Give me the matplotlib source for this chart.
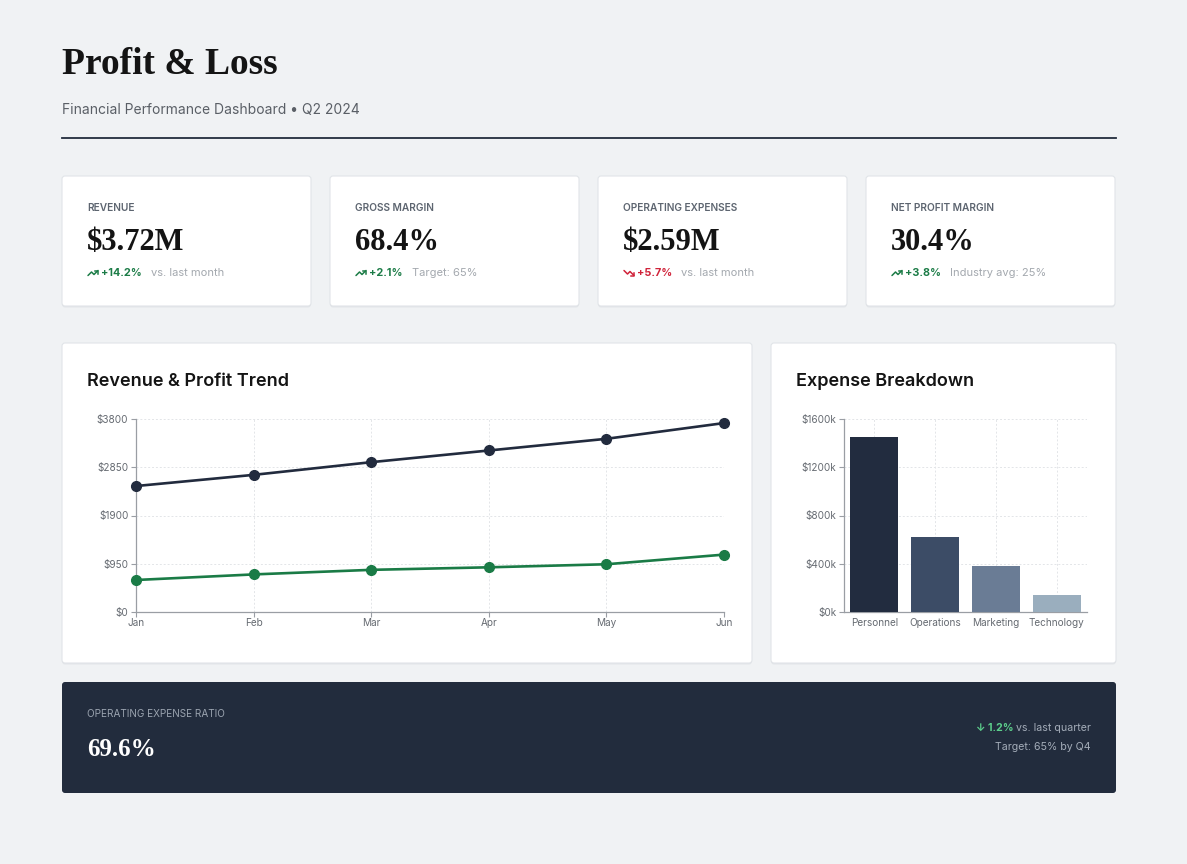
import matplotlib
matplotlib.use("Agg")
import matplotlib.pyplot as plt
from matplotlib.patches import FancyBboxPatch

# data
months = ["Jan", "Feb", "Mar", "Apr", "May", "Jun"]
revenue = [2480, 2700, 2950, 3180, 3410, 3720]
profit = [630, 740, 830, 880, 940, 1130]
line_ticks = [0, 950, 1900, 2850, 3800]

exp_cats = ["Personnel", "Operations", "Marketing", "Technology"]
exp_vals = [1450, 620, 380, 140]
bar_ticks = [0, 400, 800, 1200, 1600]
bar_colors = ["#222c3f", "#3c4c66", "#6a7c95", "#9aaebe"]

kpi_labels = ["REVENUE", "GROSS MARGIN", "OPERATING EXPENSES", "NET PROFIT MARGIN"]
kpi_values = ["$3.72M", "68.4%", "$2.59M", "30.4%"]
kpi_changes = ["+14.2%", "+2.1%", "+5.7%", "+3.8%"]
kpi_notes = ["vs. last month", "Target: 65%", "vs. last month", "Industry avg: 25%"]
kpi_good = [True, True, False, True]

W, H = 1187, 864
SANS = ["Inter", "DejaVu Sans"]
SERIF = ["Liberation Serif", "DejaVu Serif"]
GREEN = "#1c7c47"
RED = "#d0233a"
NAVY = "#222c3d"

fig = plt.figure(figsize=(W / 100, H / 100), dpi=100)
fig.patch.set_facecolor("#f0f2f4")

# pixel-space canvas for cards and texts
bg = fig.add_axes([0, 0, 1, 1])
bg.set_xlim(0, W)
bg.set_ylim(H, 0)
bg.axis("off")


def card(x0, y0, x1, y1, fc="white", ec="#e1e4e8"):
    sh = FancyBboxPatch((x0, y0 + 1.5), x1 - x0, y1 - y0, boxstyle="round,pad=0,rounding_size=3",
                        fc="#d9dde2", ec="none", alpha=0.6, zorder=1)
    bg.add_patch(sh)
    p = FancyBboxPatch((x0, y0), x1 - x0, y1 - y0, boxstyle="round,pad=0,rounding_size=3",
                       fc=fc, ec=ec, lw=0.8, zorder=2)
    bg.add_patch(p)


# header
bg.text(62, 64, "Profit & Loss", family=SERIF, weight="bold", fontsize=27, color="#141414",
        va="center", ha="left", zorder=3)
bg.text(62, 110, "Financial Performance Dashboard \u2022 Q2 2024", family=SANS, fontsize=10,
        color="#5a5f66", va="center", ha="left", zorder=3)
bg.plot([62, 1116], [137.5, 137.5], color="#222c3d", lw=1.3, zorder=3)

fig.canvas.draw()
renderer = fig.canvas.get_renderer()
inv = bg.transData.inverted()

# KPI cards
card_x = [62, 330, 598, 866]
for i in range(4):
    x0 = card_x[i]
    card(x0, 176, x0 + 249, 306)
    bg.text(x0 + 25, 208, kpi_labels[i], family=SANS, weight="semibold", fontsize=7.3,
            color="#5d6570", va="center", ha="left", zorder=3)
    bg.text(x0 + 25, 242, kpi_values[i], family=SERIF, weight="bold", fontsize=22,
            color="#141414", va="center", ha="left", zorder=3)
    col = GREEN if kpi_good[i] else RED
    ix, iy = x0 + 26, 273
    if kpi_good[i]:
        bg.plot([ix, ix + 3.5, ix + 6, ix + 10], [iy + 2.5, iy - 1, iy + 1.5, iy - 2.5],
                color=col, lw=1.1, zorder=3, solid_capstyle="round")
        bg.plot([ix + 7, ix + 10, ix + 10], [iy - 2.5, iy - 2.5, iy + 0.5], color=col, lw=1.1, zorder=3)
    else:
        bg.plot([ix, ix + 3.5, ix + 6, ix + 10], [iy - 2.5, iy + 1, iy - 1.5, iy + 2.5],
                color=col, lw=1.1, zorder=3, solid_capstyle="round")
        bg.plot([ix + 7, ix + 10, ix + 10], [iy + 2.5, iy + 2.5, iy - 0.5], color=col, lw=1.1, zorder=3)
    t = bg.text(x0 + 39, 273, kpi_changes[i], family=SANS, weight="bold", fontsize=7.8,
                color=col, va="center", ha="left", zorder=3)
    bb = t.get_window_extent(renderer)
    xr = inv.transform((bb.x1, bb.y0))[0]
    bg.text(xr + 9, 273, kpi_notes[i], family=SANS, fontsize=8.0, color="#a3a8ae",
            va="center", ha="left", zorder=3)

# chart cards
card(62, 343, 752, 663)
card(771, 343, 1116, 663)
bg.text(87, 381, "Revenue & Profit Trend", family=SANS, weight="semibold", fontsize=13,
        color="#141414", va="center", ha="left", zorder=3)
bg.text(796, 381, "Expense Breakdown", family=SANS, weight="semibold", fontsize=13,
        color="#141414", va="center", ha="left", zorder=3)

# bottom dark panel
bg.add_patch(FancyBboxPatch((62, 682), 1054, 111, boxstyle="round,pad=0,rounding_size=3",
                            fc=NAVY, ec="none", zorder=2))
bg.text(87, 714, "OPERATING EXPENSE RATIO", family=SANS, fontsize=7.2, color="#9aa3af",
        va="center", ha="left", zorder=3)
bg.text(87, 749, "69.6%", family=SERIF, weight="bold", fontsize=18, color="white",
        va="center", ha="left", zorder=3)
t = bg.text(1091, 728, "vs. last quarter", family=SANS, fontsize=7.6, color="#a4adb9",
            va="center", ha="right", zorder=3)
bb = t.get_window_extent(renderer)
xl = inv.transform((bb.x0, bb.y0))[0]
bg.text(xl - 3, 728, "\u2193 1.2%", family=SANS, weight="bold", fontsize=7.6, color="#5ccf8c",
        va="center", ha="right", zorder=3)
bg.text(1091, 747, "Target: 65% by Q4", family=SANS, fontsize=7.6, color="#a4adb9",
        va="center", ha="right", zorder=3)


def px_axes(l, t, r, b):
    return fig.add_axes([l / W, (H - b) / H, (r - l) / W, (b - t) / H])


def style_axes(ax):
    for s in ["top", "right"]:
        ax.spines[s].set_visible(False)
    for s in ["left", "bottom"]:
        ax.spines[s].set_color("#9a9ea4")
        ax.spines[s].set_linewidth(0.9)
    ax.tick_params(colors="#9a9ea4", labelcolor="#666b72", labelsize=7.2, length=3.5, width=0.8, pad=2)
    for lab in ax.get_xticklabels() + ax.get_yticklabels():
        lab.set_family(SANS)
    ax.set_facecolor("none")


# line chart
ax1 = px_axes(136, 419, 724, 612)
x = list(range(len(months)))
ax1.plot(x, revenue, color="#222b3e", lw=1.9, marker="o", ms=7, clip_on=False, zorder=4)
ax1.plot(x, profit, color="#1a7b46", lw=1.9, marker="o", ms=7, clip_on=False, zorder=4)
ax1.set_xlim(0, len(months) - 1)
ax1.set_ylim(0, 3800)
ax1.set_xticks(x)
ax1.set_xticklabels(months)
ax1.set_yticks(line_ticks)
ax1.set_yticklabels(["$%d" % v for v in line_ticks])
ax1.grid(True, color="#e3e5e8", lw=0.7, ls=(0, (2, 2)))
ax1.set_axisbelow(True)
style_axes(ax1)
ax1.tick_params(axis="x", pad=1)

# bar chart
ax2 = px_axes(844, 419, 1087, 612)
xb = list(range(len(exp_cats)))
ax2.bar(xb, exp_vals, width=0.79, color=bar_colors, zorder=3)
ax2.set_xlim(-0.5, len(exp_cats) - 0.5)
ax2.set_ylim(0, 1600)
ax2.set_xticks(xb)
ax2.set_xticklabels(exp_cats)
ax2.set_yticks(bar_ticks)
ax2.set_yticklabels(["$%dk" % v for v in bar_ticks])
ax2.grid(True, color="#e3e5e8", lw=0.7, ls=(0, (2, 2)))
ax2.axvline(len(exp_cats) - 0.5, color="#e3e5e8", lw=0.7, ls=(0, (2, 2)))
ax2.set_axisbelow(True)
style_axes(ax2)
ax2.tick_params(axis="x", length=0, pad=4)

fig.savefig("out.png", dpi=100, facecolor=fig.get_facecolor())
